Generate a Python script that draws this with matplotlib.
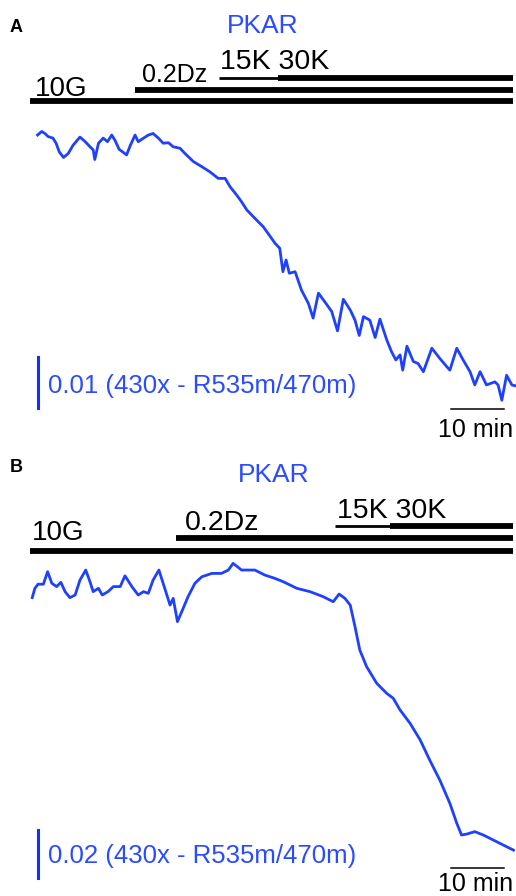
import matplotlib
matplotlib.use("Agg")
import matplotlib.pyplot as plt

plt.rcParams['font.family'] = ['Liberation Sans', 'DejaVu Sans']

# panel A trace: time (min) and ratio change (x 1e-3)
time_a = [0.1, 0.9, 1.5, 2.1, 3.0, 3.6, 4.2, 5.0, 5.9, 6.8, 8.1, 9.1, 10.0, 10.6, 10.9,
          11.6, 12.5, 13.3, 14.1, 14.7, 15.5, 16.9, 17.5, 18.5, 19.1, 20.1, 21.0, 21.9,
          22.9, 23.8, 24.8, 25.7, 27.0, 27.9, 29.5, 31.1, 32.6, 34.2, 35.5, 36.4, 37.7,
          38.6, 39.6, 40.8, 42.7, 43.6, 44.9, 45.8, 46.4, 47.0, 47.6, 48.7, 49.9, 51.2,
          52.1, 53.1, 54.3, 55.6, 56.7, 57.8, 59.1, 60.0, 60.8, 61.6, 62.8, 63.8, 64.7,
          66.0, 66.9, 67.7, 68.5, 69.0, 69.8, 71.0, 71.9, 72.9, 74.5, 76.0, 77.3, 77.9,
          79.2, 80.4, 81.7, 82.6, 83.6, 84.8, 86.4, 87.0, 87.7, 88.6, 89.6, 90.4]
ratio_a = [-0.4, 0.3, -0.1, -0.7, -1.0, -2.0, -3.7, -4.8, -4.0, -2.4, -0.8, -1.7, -2.7, -3.3, -5.2,
           -2.0, -1.0, -1.7, -0.4, -1.4, -3.2, -4.3, -2.7, -0.4, -1.7, -1.0, -0.4, -0.1,
           -1.0, -2.0, -1.9, -2.7, -3.0, -4.0, -5.6, -6.6, -7.6, -8.9, -8.9, -10.5, -12.2,
           -13.5, -15.1, -16.4, -18.4, -19.7, -21.6, -22.6, -27.2, -24.9, -27.5, -27.2, -30.8, -33.4,
           -36.3, -31.4, -33.1, -35.0, -38.8, -32.6, -34.7, -36.7, -39.7, -36.0, -36.7, -40.1, -36.5,
           -40.6, -42.9, -44.5, -43.5, -46.5, -41.8, -44.8, -45.2, -46.8, -42.2, -44.2, -45.8, -46.5,
           -42.2, -44.5, -46.8, -49.4, -46.8, -49.4, -48.8, -49.4, -52.4, -47.5, -49.4, -49.6]

# panel B trace
time_b = [-0.9, -0.4, 0.2, 1.2, 2.0, 2.8, 3.7, 4.5, 5.3, 6.2, 7.2, 8.1, 9.2, 10.0, 10.6,
          11.6, 12.3, 13.4, 14.4, 15.7, 16.6, 17.9, 19.1, 20.1, 21.0, 21.9, 23.0, 24.1,
          25.1, 25.7, 26.5, 27.3, 28.5, 29.8, 31.1, 33.0, 34.8, 36.1, 37.0, 38.6, 41.1,
          43.0, 44.8, 46.5, 49.0, 51.5, 54.0, 55.9, 57.0, 58.1, 59.1, 60.0, 60.9, 62.2,
          64.1, 66.0, 67.2, 68.5, 70.4, 72.3, 74.1, 76.0, 77.9, 79.2, 80.1, 81.1, 82.6,
          84.2, 86.1, 88.0, 89.9]
ratio_b = [-13.6, -9.7, -8.0, -8.0, -2.8, -7.6, -9.0, -7.2, -11.1, -13.6, -12.5, -6.3, -2.1,
           -7.0, -11.1, -9.7, -12.5, -11.1, -9.0, -9.0, -4.5, -9.0, -12.5, -11.1, -11.8, -6.3,
           -2.1, -9.7, -16.7, -13.9, -23.6, -19.5, -13.2, -7.6, -4.9, -3.5, -3.5, -2.1, 0.7,
           -2.1, -2.1, -4.2, -5.5, -7.0, -9.7, -11.1, -13.2, -15.3, -12.1, -13.9, -16.7, -25.7,
           -35.4, -42.4, -49.3, -53.5, -55.5, -60.4, -66.0, -72.9, -81.3, -89.6, -99.3, -107.6,
           -112.5, -112.1, -111.1, -112.5, -114.6, -116.7, -118.8]

# treatment periods (start, end in min)
bars_a = {'10G': (-1.3, 89.8), '0.2Dz': (18.5, 89.8), '15K': (34.3, 45.5), '30K': (45.5, 89.8)}
bars_b = {'10G': (-1.3, 89.8), '0.2Dz': (26.2, 89.8), '15K': (56.2, 66.6), '30K': (66.6, 89.8)}

scale_min = 10
scale_a = 10   # 0.01
scale_b = 20   # 0.02

trace_col = '#1f40ff'
text_col = '#2a4bff'

fig = plt.figure(figsize=(5.16, 8.96), dpi=100)

W, H = 516, 896
px_per_min = 5.3
x0 = 37


def xd(px):
    return (px - x0) / px_per_min


def panel(top, bot, ref, scale, letter, t, r, bars, sc, sc_label, pos):
    ax = fig.add_axes([0, (H - bot) / H, 1, (bot - top) / H])
    ax.set_xlim(xd(0), xd(W))
    ax.set_ylim(-(bot - ref) / scale, (ref - top) / scale)
    ax.axis('off')

    def yd(px):
        return (ref - px) / scale

    ax.plot(t, r, color=trace_col, lw=2.0, solid_joinstyle='round')

    # treatment bars
    ax.plot(bars['10G'], [yd(pos['y10G'])] * 2, color='black', lw=4.2, solid_capstyle='butt')
    ax.plot(bars['0.2Dz'], [yd(pos['yDz'])] * 2, color='black', lw=4.2, solid_capstyle='butt')
    ax.plot(bars['15K'], [yd(pos['yK'])] * 2, color='black', lw=2.0, solid_capstyle='butt')
    ax.plot(bars['30K'], [yd(pos['yK'])] * 2, color='black', lw=4.2, solid_capstyle='butt')

    ax.text(xd(pos['t10G'][0]), yd(pos['t10G'][1]), '10G', fontsize=20, va='baseline')
    ax.text(xd(pos['tDz'][0]), yd(pos['tDz'][1]), '0.2Dz', fontsize=pos['fDz'], va='baseline')
    ax.text(xd(pos['tK'][0]), yd(pos['tK'][1]), '15K 30K', fontsize=20.5, va='baseline')
    ax.text(xd(pos['pkar'][0]), yd(pos['pkar'][1]), 'PKAR', fontsize=19, color=text_col,
            ha='center', va='baseline')
    ax.text(xd(10), yd(pos['letter']), letter, fontsize=13, fontweight='bold', va='baseline')

    # scale bars
    ax.plot([xd(38)] * 2, [yd(pos['sb']), yd(pos['sb']) + sc], color='#1430ff', lw=2.2)
    ax.text(xd(48), yd(pos['sbt']), sc_label, fontsize=18.5, color=text_col, va='baseline')
    ax.plot([xd(451), xd(451) + scale_min], [yd(pos['tb'])] * 2, color='black', lw=1.1)
    ax.text(xd(476), yd(pos['tbt']), '10 min', fontsize=18, ha='center', va='baseline')
    return ax


panel(0, 440, 133, 5.1, 'A', time_a, ratio_a, bars_a, scale_a, '0.01 (430x - R535m/470m)',
      dict(y10G=101, yDz=90, yK=78, t10G=(35, 96), tDz=(142, 82), fDz=18, tK=(220, 69),
           pkar=(263, 33), letter=32, sb=408, sbt=393, tb=409, tbt=437))

panel(440, 896, 565, 2.4, 'B', time_b, ratio_b, bars_b, scale_b, '0.02 (430x - R535m/470m)',
      dict(y10G=551, yDz=538, yK=526, t10G=(32, 540), tDz=(185, 530), fDz=20.5, tK=(337, 518),
           pkar=(274, 482), letter=472, sb=878, sbt=863, tb=868, tbt=891))

fig.savefig('out.png', dpi=100)
